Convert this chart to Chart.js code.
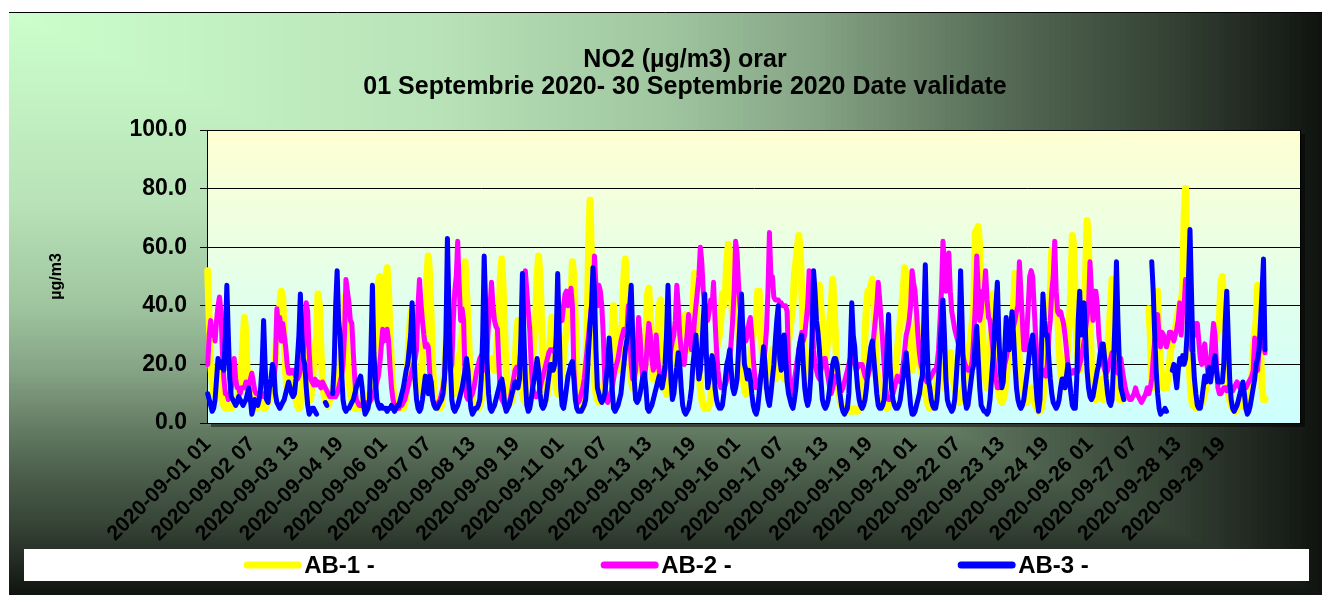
<!DOCTYPE html>
<html>
<head>
<meta charset="utf-8">
<title>NO2 orar - Septembrie 2020</title>
<script src="https://cdn.jsdelivr.net/npm/chart.js@4.4.0/dist/chart.umd.min.js"></script>
<style>
  html, body { margin: 0; padding: 0; background: #fff; }
  #wrap { width: 1322px; height: 595px; position: relative; }
</style>
</head>
<body>
<div id="wrap"><canvas id="no2Chart"></canvas></div>
<script>
// categorii orare: 01..24 pentru fiecare zi (ultima zi fara date)
const categories = [];
for (let d = 1; d <= 31; d++) {
    const day = d <= 30 ? '2020-09-' + String(d).padStart(2, '0') : '2020-10-01';
    for (let h = 1; h <= 24; h++) {
        categories.push(day + ' ' + String(h).padStart(2, '0'));
    }
}

const yTicks = [0, 20, 40, 60, 80, 100];

// AB-1 (o linie = o zi, 24 valori orare)
const ab1 = [
    52,35,20,14,10,12,16,20,15,10,7,6,5,5,6,5,5,6,6,7,8,10,12,20,
    28,36,30,14,8,17,12,6,6,5,7,9,8,6,5,5,6,7,8,10,12,15,22,32,
    38,40,45,43,30,17,12,15,17,14,17,12,8,6,5,6,10,20,28,31,22,12,8,14,
    18,25,30,44,40,25,15,10,8,7,6,8,10,12,10,12,12,15,20,25,30,43,38,20,
    14,10,8,6,5,5,6,5,6,8,10,9,8,7,8,10,14,18,24,30,48,50,40,30,
    35,48,53,45,30,20,12,8,6,5,5,6,5,5,6,10,20,30,37,39,30,20,12,10,
    12,15,20,28,35,50,57,50,35,20,10,7,6,5,5,6,10,18,25,40,42,30,18,12,
    10,12,18,22,26,30,48,55,45,35,22,12,8,6,5,5,5,6,8,10,12,15,18,20,
    22,22,20,18,22,28,35,50,56,45,30,18,10,8,7,8,12,20,30,35,25,15,10,8,
    7,8,10,12,16,22,28,35,50,57,50,35,20,12,8,10,20,30,36,28,18,12,10,12,
    15,18,22,28,32,35,38,40,55,50,35,20,12,8,6,5,8,18,30,60,76,55,30,15,
    10,8,7,8,10,12,15,20,22,25,28,30,40,30,22,18,20,28,35,50,56,45,30,20,
    15,12,14,18,19,18,19,20,22,25,30,44,46,35,20,15,18,25,30,40,42,30,20,12,
    10,12,20,28,32,25,18,15,18,22,28,32,35,37,30,25,28,35,40,51,48,30,18,12,
    8,6,5,5,5,6,8,12,18,22,25,28,30,35,44,40,45,55,61,58,45,35,40,45,
    38,30,25,20,15,12,10,12,15,20,25,30,32,35,45,45,35,25,18,15,12,15,20,22,
    25,20,15,18,22,25,20,16,15,18,22,28,32,36,40,51,55,60,64,58,45,30,20,14,
    12,15,20,25,28,30,32,35,47,40,30,25,22,25,30,35,40,49,40,28,18,12,8,6,
    5,5,4,4,4,5,4,4,5,4,4,5,6,8,15,30,40,45,42,47,49,40,28,18,
    15,12,10,8,7,6,5,6,8,10,12,15,20,25,30,35,40,45,53,50,35,25,20,18,
    20,30,36,28,22,18,16,12,10,8,6,5,6,8,10,12,15,18,20,18,15,12,15,20,
    22,24,20,15,12,10,8,7,8,10,12,15,18,22,26,30,35,40,65,66,67,60,45,30,
    20,15,12,15,25,35,44,38,25,15,10,8,7,8,10,15,20,25,30,35,40,51,45,30,
    20,15,12,10,8,7,8,10,12,10,8,6,5,4,4,5,8,15,22,30,38,45,59,55,
    42,40,38,25,18,15,12,15,20,28,35,45,64,60,40,28,20,18,22,30,40,50,69,60,
    35,20,14,10,8,10,12,15,10,8,12,18,25,32,40,49,40,25,15,10,8,8,8,9,
    null,null,null,null,null,null,null,null,null,null,null,null,null,null,null,null,39,30,15,12,25,40,45,30,
    20,15,12,12,12,15,20,25,28,30,32,35,38,40,42,45,70,80,55,30,15,8,6,6,
    5,5,6,6,7,8,10,12,15,18,20,22,25,28,30,32,35,48,50,40,25,15,10,8,
    6,5,5,4,5,6,8,8,7,6,5,5,6,8,15,25,30,35,47,40,25,12,8,8
];

// AB-2
const ab2 = [
    20,30,35,30,32,28,35,40,43,38,24,15,10,10,8,9,12,15,22,15,12,12,10,12,
    12,12,14,12,13,15,17,14,11,10,10,9,10,10,9,10,11,12,13,14,15,16,20,39,
    33,36,28,34,30,26,20,17,17,18,17,18,16,15,16,18,20,24,30,41,38,24,15,14,
    13,15,13,14,13,12,14,13,12,11,10,9,9,9,9,9,10,12,14,16,20,30,49,45,
    41,35,34,24,15,8,7,6,6,6,7,7,6,6,7,8,9,10,12,14,16,20,26,32,
    28,30,32,28,19,12,8,6,5,5,5,6,6,7,8,10,12,14,16,18,20,22,25,40,
    49,41,35,30,26,27,26,17,10,8,6,6,6,7,8,10,12,16,22,30,25,18,20,35,
    45,50,62,47,35,39,35,16,9,8,8,9,10,12,15,18,20,22,23,20,18,20,25,35,
    40,48,40,35,33,32,20,10,8,7,6,6,6,7,9,12,15,18,19,19,20,25,32,40,
    52,45,38,32,20,12,10,9,9,10,12,14,16,18,20,22,24,25,25,25,24,26,30,35,
    38,35,40,44,45,40,42,46,40,18,10,8,7,8,10,12,15,20,25,30,35,40,40,57,
    47,40,47,45,40,30,15,8,7,8,10,12,15,18,20,22,25,28,30,32,30,30,40,30,
    20,15,15,18,25,36,30,20,15,15,20,28,34,30,22,18,20,30,22,18,15,14,15,18,
    20,22,22,25,28,30,35,47,40,30,25,22,20,25,30,37,30,25,28,35,40,45,50,60,
    55,45,40,40,35,38,42,40,48,35,25,18,14,12,12,12,13,15,18,22,28,35,45,62,
    58,47,40,35,33,30,28,30,34,36,30,22,16,12,12,14,16,18,20,25,32,45,65,50,
    50,43,42,42,42,41,41,40,40,40,38,20,12,10,12,15,18,22,25,28,31,28,30,35,
    40,52,48,35,25,20,18,16,15,18,20,22,22,18,15,12,10,12,14,16,15,14,12,11,
    12,14,16,18,20,22,25,22,20,18,19,20,20,20,18,16,15,16,18,20,25,30,35,40,
    48,42,35,28,20,12,9,8,8,9,10,12,14,16,15,14,16,20,25,30,32,35,40,52,
    48,45,38,30,24,20,18,16,15,14,14,15,16,17,18,18,20,25,35,45,62,55,45,55,
    58,45,38,35,32,30,28,26,26,24,22,20,19,18,18,18,22,30,40,57,45,35,38,45,
    45,52,42,36,35,30,25,20,15,12,12,13,15,17,20,22,25,28,30,32,33,35,38,40,
    55,45,35,25,25,30,40,50,52,50,40,30,22,18,16,16,17,18,16,20,30,35,45,50,
    62,45,38,37,38,36,34,30,25,20,18,17,17,18,17,17,18,20,22,25,28,32,36,40,
    55,45,35,45,45,40,30,25,22,20,18,17,18,20,22,24,22,20,18,17,20,22,18,15,
    12,10,9,8,8,9,10,12,10,9,8,7,8,9,10,12,10,12,15,22,28,30,37,30,
    26,31,30,28,26,28,31,31,30,28,30,32,35,41,30,38,40,49,45,35,28,25,30,34,
    30,34,28,22,20,24,27,22,18,16,20,28,34,30,20,12,10,10,11,12,12,11,12,13,
    12,11,12,13,14,13,12,12,11,12,12,13,14,15,16,18,29,20,18,25,30,33,30,24
];

// AB-3
const ab3 = [
    10,8,6,4,5,8,15,22,20,19,21,18,30,47,30,15,9,8,7,6,7,9,8,7,
    6,7,8,10,12,8,3,5,8,7,6,8,12,20,35,20,8,7,12,15,20,18,10,7,
    6,5,6,7,8,10,12,14,12,10,9,10,15,22,30,44,30,22,20,12,6,3,4,5,
    5,4,3,null,null,null,null,null,7,6,null,null,null,10,20,40,52,35,30,18,8,5,4,5,
    5,6,7,8,10,12,14,15,16,12,6,3,4,5,8,25,47,24,15,8,6,5,6,5,
    5,5,4,5,5,6,5,4,5,6,6,8,10,12,15,18,20,25,30,41,27,15,8,5,
    4,5,8,12,16,14,10,16,14,8,6,5,5,6,7,8,10,15,30,63,40,20,8,5,
    4,5,6,8,10,12,15,18,22,18,10,5,3,4,5,5,6,8,15,30,57,40,20,10,
    5,4,5,6,8,10,12,14,15,12,6,4,5,6,8,10,12,14,14,12,15,30,51,30,
    15,6,4,5,8,12,15,18,22,18,10,6,5,6,8,12,16,20,20,18,20,30,51,32,
    12,6,5,8,12,16,18,20,21,15,8,5,4,4,4,5,6,8,15,25,33,40,53,45,
    25,12,10,8,7,8,10,15,20,29,22,12,5,4,5,6,8,10,15,20,25,28,32,40,
    47,30,15,8,7,8,10,13,16,17,12,5,4,5,6,8,10,12,14,16,14,12,15,20,
    30,47,30,15,8,10,15,19,24,20,12,6,4,3,4,5,8,12,20,25,30,22,15,18,
    25,35,44,25,12,15,20,23,20,12,8,6,5,5,6,10,15,20,22,25,18,12,10,12,
    15,25,35,44,30,20,18,15,18,15,10,6,4,3,5,10,15,20,26,20,12,8,6,10,
    15,20,28,35,40,22,18,25,30,22,14,10,8,6,5,8,12,18,25,28,30,20,12,8,
    6,8,15,30,52,45,35,31,25,15,8,6,5,6,8,12,16,20,22,22,20,15,10,6,
    4,3,4,5,10,25,41,30,26,18,12,8,6,5,6,8,12,18,22,26,28,22,16,10,
    6,5,5,6,8,15,25,37,20,12,8,6,5,5,6,8,12,16,20,24,18,12,6,3,
    3,4,6,8,10,14,16,35,54,30,15,12,8,6,5,5,8,15,25,35,42,30,15,8,
    6,5,4,5,8,15,23,30,52,35,15,8,5,6,10,14,18,20,28,33,22,12,6,5,
    4,4,3,4,8,15,22,31,40,48,30,18,12,14,25,36,30,25,32,38,30,20,12,8,
    6,5,6,8,12,16,20,25,28,30,25,15,8,4,8,25,44,35,30,30,22,15,10,7,
    6,5,6,8,12,15,15,12,16,20,15,10,6,5,5,15,35,45,30,35,41,30,18,12,
    9,8,9,12,15,18,20,24,27,27,22,15,10,7,6,8,20,35,55,35,20,12,10,8,
    null,null,null,null,null,null,null,null,null,null,null,null,null,null,null,null,null,null,55,45,30,18,10,5,
    3,4,4,5,4,null,null,null,18,20,16,12,18,22,20,23,20,22,30,50,66,45,24,15,
    10,6,5,5,8,12,16,14,16,19,14,18,20,23,18,14,14,14,14,20,35,45,30,15,
    8,5,4,5,6,8,10,12,14,10,5,3,4,6,9,12,15,20,22,25,35,45,56,25
];

const FONT = '"Liberation Sans", Arial, sans-serif';

// fundal: gradient "din colt" (verde deschis sus-stanga -> aproape negru)
const bgStops = [
    [0.00, [204, 255, 204]],
    [0.33, [184, 226, 184]],
    [0.50, [160, 198, 160]],
    [0.62, [132, 162, 132]],
    [0.72, [98, 122, 98]],
    [0.80, [74, 92, 74]],
    [0.88, [54, 68, 54]],
    [0.94, [36, 44, 36]],
    [1.00, [16, 20, 16]]
];

function bgColor(t) {
    for (let i = 1; i < bgStops.length; i++) {
        if (t <= bgStops[i][0]) {
            const [t0, c0] = bgStops[i - 1];
            const [t1, c1] = bgStops[i];
            const f = (t - t0) / (t1 - t0);
            const c = c0.map((v, k) => Math.round(v + (c1[k] - v) * f));
            return `rgb(${c[0]},${c[1]},${c[2]})`;
        }
    }
    return 'rgb(16,20,16)';
}

const background = {
    id: 'background',
    beforeDraw(chart) {
        const ctx = chart.ctx;
        const x0 = 9, y0 = 12;
        const w = chart.width - x0, h = chart.height - y0;
        ctx.save();
        for (let k = 240; k >= 1; k--) {
            const t = k / 240;
            ctx.fillStyle = bgColor(t);
            ctx.fillRect(x0, y0, Math.ceil(w * t), Math.ceil(h * t));
        }
        ctx.strokeStyle = '#000';
        ctx.lineWidth = 1;
        ctx.beginPath();
        ctx.moveTo(x0, y0 + 0.5);
        ctx.lineTo(chart.width, y0 + 0.5);
        ctx.stroke();

        // zona graficului: umbra + gradient galben -> cyan
        const a = chart.chartArea;
        ctx.fillStyle = 'rgba(0,0,0,0.45)';
        ctx.fillRect(a.left + 4, a.top + 4, a.right - a.left, a.bottom - a.top);
        const g = ctx.createLinearGradient(0, a.top, 0, a.bottom);
        g.addColorStop(0, '#ffffd2');
        g.addColorStop(1, '#ccffff');
        ctx.fillStyle = g;
        ctx.fillRect(a.left, a.top, a.right - a.left, a.bottom - a.top);
        ctx.restore();
    },
    beforeDatasetsDraw(chart) {
        const a = chart.chartArea;
        const ctx = chart.ctx;
        ctx.save();
        ctx.strokeStyle = '#000';
        ctx.lineWidth = 1;
        ctx.strokeRect(a.left + 0.5, a.top + 0.5, a.right - a.left - 1, a.bottom - a.top);
        ctx.restore();
    }
};

// legenda in caseta alba de jos
const legendBox = {
    id: 'legendBox',
    afterDraw(chart) {
        const ctx = chart.ctx;
        const left = 24, right = chart.width - 13;
        const top = chart.height - 46, bottom = chart.height - 14;
        const cy = (top + bottom) / 2;
        const cx = (left + right) / 2;
        const spacing = 357;
        ctx.save();
        ctx.fillStyle = '#fff';
        ctx.fillRect(left, top, right - left, bottom - top);
        ctx.font = 'bold 24px ' + FONT;
        ctx.textBaseline = 'middle';
        ctx.textAlign = 'left';
        chart.data.datasets.forEach((ds, i) => {
            const textW = ctx.measureText(ds.label).width;
            const itemW = 57 + 3 + textW;
            const x = cx + (i - 1) * spacing - itemW / 2;
            ctx.strokeStyle = ds.borderColor;
            ctx.lineWidth = 7;
            ctx.lineCap = 'round';
            ctx.beginPath();
            ctx.moveTo(x + 3, cy);
            ctx.lineTo(x + 54, cy);
            ctx.stroke();
            ctx.fillStyle = '#000';
            ctx.fillText(ds.label, x + 60, cy + 1);
        });
        ctx.restore();
    }
};

const lineStyle = {
    pointRadius: 0,
    pointHoverRadius: 0,
    tension: 0,
    fill: false,
    spanGaps: false,
    borderJoinStyle: 'round',
    borderCapStyle: 'round'
};

new Chart(document.getElementById('no2Chart'), {
    type: 'line',
    data: {
        labels: categories,
        datasets: [
            { label: 'AB-1 -', data: ab1, borderColor: '#ffff00', borderWidth: 7, order: 3, ...lineStyle },
            { label: 'AB-2 -', data: ab2, borderColor: '#ff00ff', borderWidth: 5, order: 2, ...lineStyle },
            { label: 'AB-3 -', data: ab3, borderColor: '#0000ff', borderWidth: 5, order: 1, ...lineStyle }
        ]
    },
    options: {
        responsive: true,
        maintainAspectRatio: false,
        animation: false,
        events: [],
        layout: { padding: { left: 69, right: 21, top: 12, bottom: 46 } },
        plugins: {
            legend: { display: false },
            tooltip: { enabled: false },
            title: {
                display: true,
                text: ['NO2 (µg/m3) orar', '01 Septembrie 2020- 30 Septembrie 2020 Date validate'],
                color: '#000',
                font: { family: FONT, size: 25, weight: 'bold', lineHeight: 1.1 },
                padding: { top: 34, bottom: 29 }
            }
        },
        scales: {
            x: {
                offset: true,
                grid: { display: false, drawTicks: false },
                border: { display: true, color: '#000', width: 1 },
                ticks: {
                    autoSkip: false,
                    maxRotation: 45,
                    minRotation: 45,
                    padding: 9,
                    color: '#000',
                    font: { family: FONT, size: 21, weight: 'bold' },
                    callback: (v, i) => (i % 30 === 0 && i < 720) ? categories[i] : ''
                },
                afterFit: (scale) => {
                    scale.height = 126;
                    scale.paddingLeft = 0;
                    scale.paddingRight = 0;
                }
            },
            y: {
                min: yTicks[0],
                max: yTicks[yTicks.length - 1],
                afterBuildTicks: (scale) => { scale.ticks = yTicks.map(v => ({ value: v })); },
                grid: { color: '#000', lineWidth: 1, tickLength: 7, drawTicks: true },
                border: { display: true, color: '#000', width: 1 },
                ticks: {
                    padding: 13,
                    color: '#000',
                    font: { family: FONT, size: 23, weight: 'bold' },
                    callback: (v) => Number(v).toFixed(1)
                },
                title: {
                    display: true,
                    text: 'µg/m3',
                    color: '#000',
                    font: { family: FONT, size: 16, weight: 'bold', lineHeight: 1.2 },
                    padding: { top: -21.6, bottom: 0 }
                },
                afterFit: (scale) => { scale.width = 138; }
            }
        }
    },
    plugins: [background, legendBox]
});
</script>
</body>
</html>
